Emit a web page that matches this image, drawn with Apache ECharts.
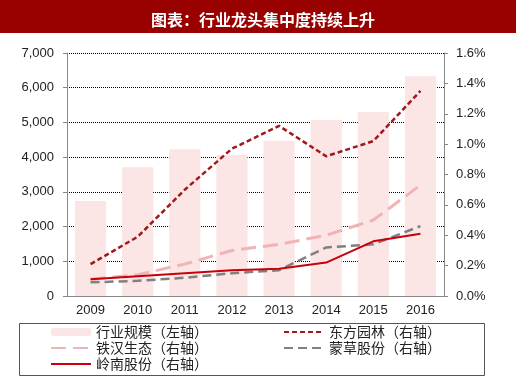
<!DOCTYPE html>
<html>
<head>
<meta charset="utf-8">
<script src="https://cdn.jsdelivr.net/npm/echarts@6/dist/echarts.min.js"></script>
<style>
  html, body { margin: 0; padding: 0; background: #fff; }
  #chart { width: 520px; height: 376px; }
</style>
</head>
<body>
<div id="chart"></div>
<script>
// 数据
const years = ['2009', '2010', '2011', '2012', '2013', '2014', '2015', '2016']
const industryScale = [2740, 3710, 4230, 4060, 4470, 5070, 5300, 6330]   // 左轴
const dongfang = [0.21, 0.39, 0.70, 0.97, 1.12, 0.92, 1.02, 1.35]         // 右轴 %
const tiehan = [0.11, 0.14, 0.21, 0.30, 0.34, 0.40, 0.50, 0.73]
const mengcao = [0.09, 0.10, 0.12, 0.15, 0.17, 0.32, 0.34, 0.46]
const lingnan = [0.11, 0.13, 0.15, 0.17, 0.18, 0.22, 0.36, 0.41]

const labelFont = {color: '#222', fontSize: 13, fontFamily: 'Liberation Sans, Arial, sans-serif'}
const legendFont = {color: '#222', fontSize: 14, lineHeight: 16, fontFamily: 'Noto Sans CJK SC, sans-serif'}

// 线条图例只显示线，不显示圆点
const lineItem = name => ({name: name, itemStyle: {opacity: 0}})

const chart = echarts.init(document.getElementById('chart'), null, {renderer: 'canvas'})

const option = {
  animation: false,
  backgroundColor: '#fff',
  graphic: [
    // 标题底色
    {type: 'rect', left: 0, top: 0, shape: {width: 516, height: 33}, style: {fill: '#990000'}, z: -1},
    // 图例外框
    {type: 'rect', left: 17, top: 321, shape: {width: 465, height: 52}, style: {fill: 'none', stroke: '#555', lineWidth: 1}}
  ],
  title: {
    text: '图表：行业龙头集中度持续上升',
    left: 258,
    textAlign: 'center',
    top: 7,
    textStyle: {color: '#fff', fontSize: 16, fontWeight: 'bold', fontFamily: 'Noto Sans CJK SC, sans-serif'}
  },
  grid: {left: 67, right: 76, top: 53, bottom: 80},
  legend: [
    {
      orient: 'vertical', left: 50, top: 324, height: 60, padding: 0,
      itemWidth: 40, itemHeight: 8, itemGap: 0,
      data: ['行业规模（左轴）', lineItem('铁汉生态（右轴）'), lineItem('岭南股份（右轴）')],
      textStyle: legendFont
    },
    {
      orient: 'vertical', left: 283, top: 324, height: 60, padding: 0,
      itemWidth: 40, itemHeight: 8, itemGap: 0,
      data: [lineItem('东方园林（右轴）'), lineItem('蒙草股份（右轴）')],
      textStyle: legendFont
    }
  ],
  xAxis: {
    type: 'category',
    data: years,
    axisLine: {lineStyle: {color: '#888'}},
    axisTick: {length: 4, lineStyle: {color: '#888'}},
    axisLabel: Object.assign({margin: 8}, labelFont)
  },
  yAxis: [
    {
      type: 'value', min: 0, max: 7000, interval: 1000,
      axisLine: {show: true, lineStyle: {color: '#888'}},
      axisTick: {show: true, length: 4, lineStyle: {color: '#888'}},
      axisLabel: Object.assign({margin: 13, formatter: v => v.toLocaleString('en-US')}, labelFont),
      splitLine: {lineStyle: {color: '#000', type: [1, 1], width: 1}}
    },
    {
      type: 'value', min: 0, max: 1.6, interval: 0.2, position: 'right',
      axisLine: {show: true, lineStyle: {color: '#888'}},
      axisTick: {show: true, length: 4, lineStyle: {color: '#888'}},
      axisLabel: Object.assign({margin: 12, formatter: v => v.toFixed(1) + '%'}, labelFont),
      splitLine: {show: false}
    }
  ],
  series: [
    {
      name: '行业规模（左轴）', type: 'bar', yAxisIndex: 0, data: industryScale,
      barWidth: '66%', itemStyle: {color: '#FBE5E5'}
    },
    {
      name: '东方园林（右轴）', type: 'line', yAxisIndex: 1, data: dongfang,
      symbol: 'none', itemStyle: {color: '#A0171C'},
      lineStyle: {color: '#A0171C', width: 2.5, type: [5, 3]}
    },
    {
      name: '铁汉生态（右轴）', type: 'line', yAxisIndex: 1, data: tiehan,
      symbol: 'none', itemStyle: {color: '#F0B4B4'},
      lineStyle: {color: '#F0B4B4', width: 3, type: [15, 7]}
    },
    {
      name: '蒙草股份（右轴）', type: 'line', yAxisIndex: 1, data: mengcao,
      symbol: 'none', itemStyle: {color: '#808080'},
      lineStyle: {color: '#808080', width: 2.5, type: [9, 5]}
    },
    {
      name: '岭南股份（右轴）', type: 'line', yAxisIndex: 1, data: lingnan,
      symbol: 'none', itemStyle: {color: '#C8000A'},
      lineStyle: {color: '#C8000A', width: 2}
    }
  ]
}

chart.setOption(option)
</script>
</body>
</html>
